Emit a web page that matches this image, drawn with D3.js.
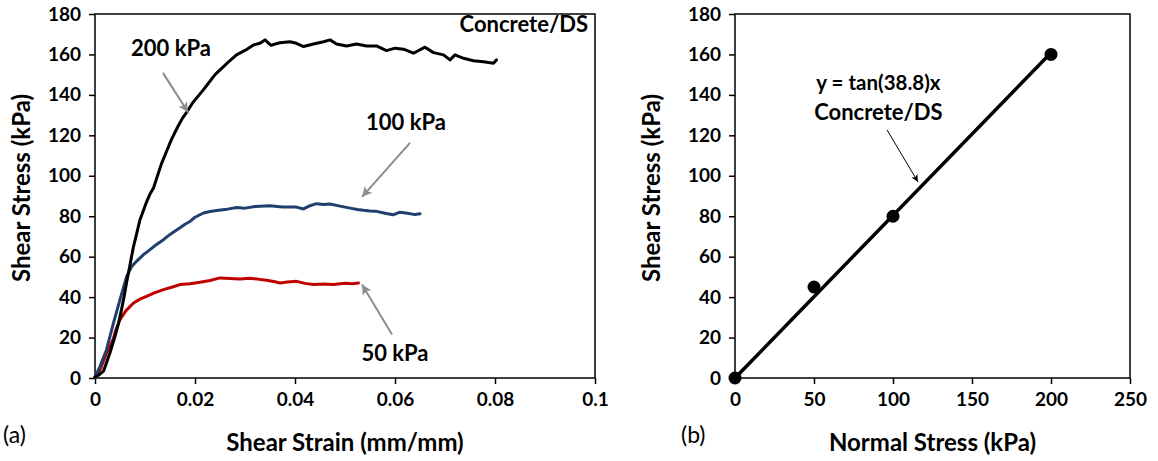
<!DOCTYPE html>
<html>
<head>
<meta charset="utf-8">
<script src="https://cdn.jsdelivr.net/npm/d3@7"></script>
<style>
  html, body { margin: 0; padding: 0; background: #fff; }
  svg { display: block; }
  text { font-family: Lato, "Noto Sans", sans-serif; fill: #000; }
  .tick text { font-weight: 700; font-size: 19px; }
  .axis-title { font-weight: 700; font-size: 24px; }
  .note { font-weight: 700; font-size: 22px; }
  .eq { font-weight: 700; font-size: 20.5px; }
  .panel { font-size: 23px; }
</style>
</head>
<body>
<svg id="chart" width="1158" height="461"></svg>
<script>
// Shear stress vs. shear strain (Concrete/DS) at three normal stresses
const strain200 = [0,0.0008,0.0017,0.0023,0.003,0.004,0.0047,0.0053,0.0058,0.0063,0.007,0.0077,0.0083,0.009,0.0097,0.0103,0.011,0.0117,0.0125,0.0133,0.0143,0.0153,0.0165,0.0175,0.0185,0.0195,0.0205,0.0215,0.0223,0.024,0.0257,0.027,0.0283,0.03,0.0317,0.033,0.034,0.0352,0.0362,0.037,0.039,0.0403,0.0417,0.0437,0.0457,0.047,0.0483,0.0503,0.0523,0.0543,0.0563,0.0583,0.06,0.0617,0.0637,0.066,0.0677,0.0697,0.071,0.072,0.0737,0.0757,0.0777,0.0797,0.0803];
const stress200 = [0.5,1.5,3.4,7.5,12.5,20.6,27,33.8,40,47,56,65,71,78.3,83,87,91,94,100,106,112,118,124,128.5,132,136,139,142,144.5,150,154,157,159.8,162,164.7,165.5,167.2,164.5,165.3,165.8,166.3,165.5,163.9,165.2,166.3,167.2,165.2,164.2,165.2,164.2,164.2,161.9,163.1,162.6,160.6,163.6,160.9,159.8,157.3,159.8,158.1,156.9,156.4,155.7,157.3];

const strain100 = [0,0.001,0.0023,0.0037,0.005,0.0063,0.0073,0.0083,0.0097,0.011,0.0123,0.0137,0.015,0.017,0.018,0.019,0.02,0.0217,0.023,0.0247,0.0265,0.0283,0.03,0.032,0.035,0.0375,0.0403,0.0417,0.043,0.0443,0.0457,0.047,0.049,0.051,0.0525,0.0537,0.055,0.0563,0.058,0.0596,0.061,0.0625,0.064,0.065];
const stress100 = [0.5,5.8,14,27.3,38.8,50,55,57.7,61,63.5,66,68.4,71,74.3,76,77.4,79.5,81.6,82.3,82.9,83.5,84.3,84,84.8,85.2,84.6,84.5,83.6,85.2,86.2,85.8,86,85,84,83.3,82.9,82.6,82.4,81.5,80.7,82,81.5,80.8,81.2];

const strain50 = [0,0.001,0.0022,0.0036,0.0042,0.005,0.0062,0.0077,0.009,0.0103,0.012,0.0137,0.0155,0.017,0.019,0.021,0.023,0.025,0.027,0.029,0.031,0.0325,0.0343,0.036,0.037,0.0385,0.0403,0.042,0.0437,0.0457,0.0477,0.05,0.0515,0.0527];
const stress50 = [0.3,4,11.5,19,24,28.9,33.3,37.1,39,40.4,42.2,43.7,45,46.2,46.6,47.3,48.2,49.5,49.2,49,49.3,48.9,48.3,47.6,47,47.5,47.8,46.8,46.2,46.5,46.2,46.9,46.6,47];

// Failure envelope: peak shear stress vs. normal stress
const normalStress = [0, 50, 100, 200];
const peakShear = [0, 45, 80, 160];
const frictionAngle = 38.8;

const strainTicks = [0, 0.02, 0.04, 0.06, 0.08, 0.1];
const normalTicks = [0, 50, 100, 150, 200, 250];
const stressTicks = [0, 20, 40, 60, 80, 100, 120, 140, 160, 180];

const svg = d3.select("#chart");

// arrowhead markers
const defs = svg.append("defs");
defs.append("marker").attr("id", "headGrey")
  .attr("viewBox", "0 0 10 10").attr("refX", 10).attr("refY", 5)
  .attr("markerUnits", "userSpaceOnUse").attr("markerWidth", 12).attr("markerHeight", 10)
  .attr("orient", "auto")
  .append("path").attr("d", "M0,0 L10,5 L0,10 L2.5,5 Z").attr("fill", "#8c8c8c");
defs.append("marker").attr("id", "headBlack")
  .attr("viewBox", "0 0 10 10").attr("refX", 10).attr("refY", 5)
  .attr("markerUnits", "userSpaceOnUse").attr("markerWidth", 9).attr("markerHeight", 7)
  .attr("orient", "auto")
  .append("path").attr("d", "M0,0 L10,5 L0,10 L2.5,5 Z").attr("fill", "#000");

function frame(g, x, y, xTicks, xFmt) {
  const [x0, x1] = x.range();
  const [y0, y1] = y.range();
  g.append("g").attr("transform", `translate(0,${y0})`)
    .call(d3.axisBottom(x).tickValues(xTicks).tickFormat(xFmt).tickSizeInner(6).tickSizeOuter(0).tickPadding(9))
    .call(a => a.select(".domain").remove());
  g.append("g").attr("transform", `translate(${x0},0)`)
    .call(d3.axisLeft(y).tickValues(stressTicks).tickFormat(d3.format("d")).tickSizeInner(6).tickSizeOuter(0).tickPadding(8))
    .call(a => a.select(".domain").remove());
  g.selectAll(".tick line").attr("stroke", "#000").attr("stroke-width", 1.5);
  g.append("rect").attr("x", x0).attr("y", y1).attr("width", x1 - x0).attr("height", y0 - y1)
    .attr("fill", "none").attr("stroke", "#000").attr("stroke-width", 1.5);
}

// ---------- (a) stress-strain curves ----------
const xa = d3.scaleLinear().domain([0, 0.1]).range([95, 595]);
const ya = d3.scaleLinear().domain([0, 180]).range([378, 14]);
const ga = svg.append("g");
frame(ga, xa, ya, strainTicks, d => d === 0 ? "0" : d3.format("")(+d.toFixed(2)));

const lineA = d3.line().x(d => xa(d[0])).y(d => ya(d[1]));
const curves = [
  { s: strain50, t: stress50, color: "#c00000" },
  { s: strain100, t: stress100, color: "#203f6e" },
  { s: strain200, t: stress200, color: "#000000" }
];
curves.forEach(c => {
  ga.append("path").datum(d3.zip(c.s, c.t)).attr("d", lineA)
    .attr("fill", "none").attr("stroke", c.color).attr("stroke-width", 3)
    .attr("stroke-linejoin", "round").attr("stroke-linecap", "round");
});

function arrow(g, x, y, from, to, color, width, head) {
  g.append("line").attr("x1", x(from[0])).attr("y1", y(from[1]))
    .attr("x2", x(to[0])).attr("y2", y(to[1]))
    .attr("stroke", color).attr("stroke-width", width)
    .attr("marker-end", `url(#${head})`);
}
arrow(ga, xa, ya, [0.0136, 150.9], [0.0186, 131.4], "#8c8c8c", 2, "headGrey");
arrow(ga, xa, ya, [0.063, 116.3], [0.0534, 89.6], "#8c8c8c", 2, "headGrey");
arrow(ga, xa, ya, [0.0594, 21.5], [0.0534, 46.2], "#8c8c8c", 2, "headGrey");

ga.append("text").attr("class", "note").attr("x", xa(0.0152)).attr("y", ya(159.3)).attr("text-anchor", "middle").text("200 kPa");
ga.append("text").attr("class", "note").attr("x", xa(0.0622)).attr("y", ya(122.7)).attr("text-anchor", "middle").text("100 kPa");
ga.append("text").attr("class", "note").attr("x", xa(0.06)).attr("y", ya(8.3)).attr("text-anchor", "middle").text("50 kPa");
ga.append("text").attr("class", "note").attr("x", xa(0.0986)).attr("y", ya(171.1)).attr("text-anchor", "end").text("Concrete/DS");

ga.append("text").attr("class", "axis-title").attr("x", 345).attr("y", 451).attr("text-anchor", "middle").text("Shear Strain (mm/mm)");
ga.append("text").attr("class", "axis-title").attr("transform", "translate(30,188) rotate(-90)").attr("text-anchor", "middle").text("Shear Stress (kPa)");
ga.append("text").attr("class", "panel").attr("x", 3).attr("y", 443).text("(a)");

// ---------- (b) failure envelope ----------
const xb = d3.scaleLinear().domain([0, 250]).range([735, 1130]);
const yb = d3.scaleLinear().domain([0, 180]).range([378, 14]);
const gb = svg.append("g");
frame(gb, xb, yb, normalTicks, d3.format("d"));

const slope = Math.tan(frictionAngle * Math.PI / 180);
const fitX = [0, 200];
gb.append("path").datum(fitX.map(v => [v, slope * v]))
  .attr("d", d3.line().x(d => xb(d[0])).y(d => yb(d[1])))
  .attr("stroke", "#000").attr("stroke-width", 3.5).attr("fill", "none");
gb.selectAll("circle.pt").data(d3.zip(normalStress, peakShear)).join("circle")
  .attr("class", "pt").attr("cx", d => xb(d[0])).attr("cy", d => yb(d[1])).attr("r", 6.5).attr("fill", "#000");

arrow(gb, xb, yb, [96.2, 122.7], [115.8, 97], "#000", 1, "headBlack");
gb.append("text").attr("class", "eq").attr("x", xb(90.8)).attr("y", yb(142.5)).attr("text-anchor", "middle").text(`y = tan(${frictionAngle})x`);
gb.append("text").attr("class", "note").attr("x", xb(90.8)).attr("y", yb(127.7)).attr("text-anchor", "middle").text("Concrete/DS");

gb.append("text").attr("class", "axis-title").attr("x", 932.5).attr("y", 451).attr("text-anchor", "middle").text("Normal Stress (kPa)");
gb.append("text").attr("class", "axis-title").attr("transform", "translate(660,188) rotate(-90)").attr("text-anchor", "middle").text("Shear Stress (kPa)");
gb.append("text").attr("class", "panel").attr("x", 681).attr("y", 443).text("(b)");
</script>
</body>
</html>
